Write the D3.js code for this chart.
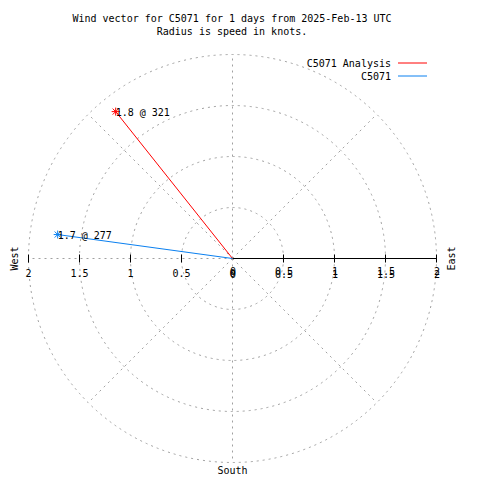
<!DOCTYPE html>
<html>
<head>
<meta charset="utf-8">
<script src="https://cdn.jsdelivr.net/npm/d3@7"></script>
<style>
html,body{margin:0;padding:0;background:#fff;}
svg text{font-family:"DejaVu Sans Mono",monospace;font-size:10px;fill:#000;}
</style>
</head>
<body>
<script>
const titleLines = ["Wind vector for C5071 for 1 days from 2025-Feb-13 UTC", "Radius is speed in knots."];
const seriesNames = ["C5071 Analysis", "C5071"];
const seriesColors = ["#ff0000", "#0a80f0"];
const speeds = [1.84, 1.73];
const directions = [321.5, 277.8];
const pointLabels = ["1.8 @ 321", "1.7 @ 277"];
const rTicks = [0, 0.5, 1, 1.5, 2];
const rTickLabels = ["0", "0.5", "1", "1.5", "2"];
const gridAngles = [0, 45, 90, 135, 180, 225, 270, 315];

const W = 480, H = 480, cx = 232.5, cy = 258.5;
const svg = d3.select("body").append("svg").attr("width", W).attr("height", H);
const r = d3.scaleLinear().domain([0, 2]).range([0, 204]);
const gray = "#a0a0a0";

// title
svg.selectAll("text.title").data(titleLines).enter().append("text")
  .attr("x", 232).attr("y", (d, i) => 22 + i * 13).attr("text-anchor", "middle").text(d => d);

const g = svg.append("g").attr("transform", `translate(${cx},${cy})`);

// circles
g.selectAll("circle.grid").data(rTicks.filter(v => v > 0)).enter().append("circle")
  .attr("r", d => r(d)).attr("fill", "none").attr("stroke", gray)
  .attr("stroke-width", 1).attr("stroke-dasharray", "2,4");

// radial lines (compass degrees clockwise from north)
const pt = (deg, v) => [Math.sin(deg * Math.PI / 180) * r(v), -Math.cos(deg * Math.PI / 180) * r(v)];
g.selectAll("line.rad").data(gridAngles).enter().append("line")
  .attr("x1", 0).attr("y1", 0)
  .attr("x2", d => pt(d, 2)[0]).attr("y2", d => pt(d, 2)[1])
  .attr("stroke", gray).attr("stroke-width", 1).attr("stroke-dasharray", "2,4");

// r axis (solid, east)
g.append("line").attr("x1", 0).attr("y1", 0).attr("x2", r(2)).attr("y2", 0)
  .attr("stroke", "#000").attr("stroke-width", 1);

// ticks both sides
const tickVals = rTicks.filter(v => v > 0);
g.selectAll("line.tr").data(tickVals).enter().append("line")
  .attr("x1", d => r(d)).attr("x2", d => r(d)).attr("y1", -4).attr("y2", 4)
  .attr("stroke", "#000");
g.selectAll("line.tl").data(tickVals).enter().append("line")
  .attr("x1", d => -r(d)).attr("x2", d => -r(d)).attr("y1", -4).attr("y2", 4)
  .attr("stroke", "#000");

// tick labels
g.selectAll("text.tl").data(rTicks).enter().append("text")
  .attr("x", d => -r(d)).attr("y", 18).attr("text-anchor", "middle")
  .text((d, i) => rTickLabels[i]);
[16, 19].forEach(yy => {
  g.selectAll("text.tr" + yy).data(rTicks).enter().append("text")
    .attr("x", d => r(d) + 0.5).attr("y", yy).attr("text-anchor", "middle")
    .text((d, i) => rTickLabels[i]);
});

// compass labels
svg.append("text").attr("transform", `translate(18,${cy}) rotate(-90)`).attr("text-anchor", "middle").text("West");
svg.append("text").attr("transform", `translate(455,${cy}) rotate(-90)`).attr("text-anchor", "middle").text("East");
svg.append("text").attr("x", cx).attr("y", 474).attr("text-anchor", "middle").text("South");

// vectors
speeds.forEach((s, i) => {
  const p = pt(directions[i], s);
  g.append("line").attr("x1", 0).attr("y1", 0).attr("x2", p[0]).attr("y2", p[1])
    .attr("stroke", seriesColors[i]).attr("stroke-width", 1);
  const star = g.append("g").attr("transform", `translate(${p[0]},${p[1]})`)
    .attr("stroke", seriesColors[i]).attr("stroke-width", 1);
  [[-4, 0, 4, 0], [0, -4, 0, 4], [-3, -3, 3, 3], [-3, 3, 3, -3]].forEach(l =>
    star.append("line").attr("x1", l[0]).attr("y1", l[1]).attr("x2", l[2]).attr("y2", l[3]));
  g.append("text").attr("x", p[0]).attr("y", p[1] + 4).text(pointLabels[i]);
});

// legend
seriesNames.forEach((n, i) => {
  const y = 63 + i * 13;
  svg.append("text").attr("x", 391).attr("y", y + 4).attr("text-anchor", "end").text(n);
  svg.append("line").attr("x1", 398).attr("x2", 427).attr("y1", y).attr("y2", y)
    .attr("stroke", seriesColors[i]).attr("stroke-width", 1);
});
</script>
</body>
</html>
